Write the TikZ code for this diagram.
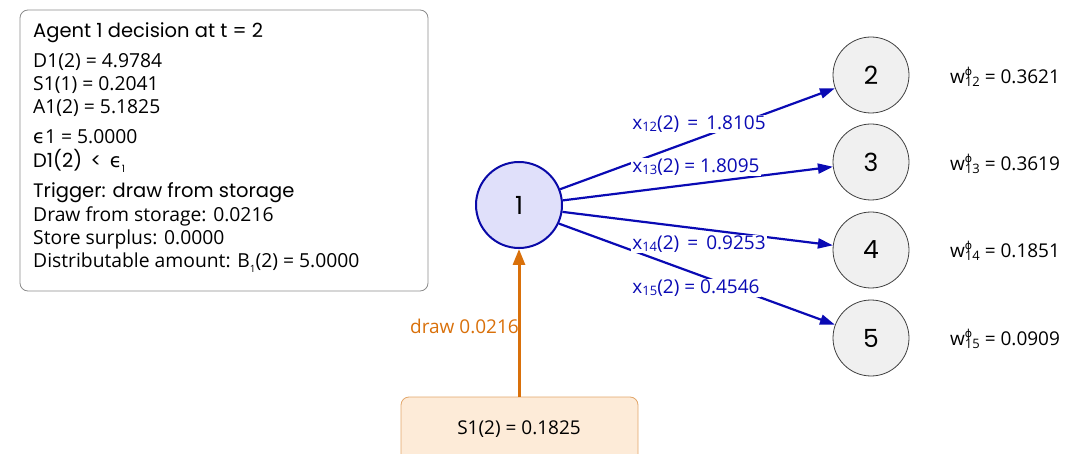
\documentclass[tikz,border=0pt]{standalone}
\usepackage{fontspec}
\setmainfont{Open Sans}
\newfontfamily\headfont{Poppins}
\newfontfamily\symfont{DejaVu Sans}
\usetikzlibrary{arrows.meta}
\definecolor{flowblue}{HTML}{0A0AB4}
\definecolor{agentfill}{HTML}{E0E0FA}
\definecolor{agentline}{HTML}{0A0AA8}
\definecolor{peerfill}{HTML}{F0F0F0}
\definecolor{peerline}{HTML}{404040}
\definecolor{drawor}{HTML}{D9700A}
\definecolor{storefill}{HTML}{FDEBD8}
\definecolor{storeline}{HTML}{E2A66A}
\newcommand{\eps}{{\symfont ϵ}}
\newcommand{\lowidx}[1]{\raisebox{-0.2ex}{\fontsize{13}{13}\selectfont #1}}
\newcommand{\wlab}[1]{w\rlap{\raisebox{0.75ex}{\symfont\fontsize{11}{11}\selectfont ϕ}}\raisebox{-0.35ex}{\fontsize{13}{13}\selectfont #1}}
\tikzset{
  agent/.style={circle, draw=agentline, line width=2pt, fill=agentfill, minimum size=86pt, inner sep=0pt, font=\headfont\fontsize{25}{25}\selectfont},
  peer/.style={circle, draw=peerline, line width=0.8pt, fill=peerfill, minimum size=76pt, inner sep=0pt, font=\headfont\fontsize{25}{25}\selectfont},
  flow/.style={draw=flowblue, line width=2.2pt, -{Triangle[length=15pt,width=10pt]}},
  flowlab/.style={fill=white, inner sep=1pt, text=flowblue, font=\fontsize{19}{19}\selectfont},
  wlabel/.style={anchor=west, inner sep=0pt, font=\fontsize{19}{19}\selectfont},
  infotext/.style={anchor=base west, inner sep=0pt, font=\fontsize{19.3}{19}\selectfont},
  infohead/.style={anchor=base west, inner sep=0pt, font=\headfont\fontsize{19.5}{20}\selectfont},
}
\begin{document}
\begin{tikzpicture}[x=1pt,y=-1pt]
\useasboundingbox (0,0) rectangle (1065,454);

% decision summary panel
\draw[draw=black!45, line width=0.8pt, rounded corners=8pt] (20,10) rectangle (428,291);
\node[infohead] (t0) at (33,38) {Agent 1 decision at t = 2};
\node[infotext] (t1) at (33,68) {D1(2) = 4.9784};
\node[infotext] (t2) at (33,91) {S1(1) = 0.2041};
\node[infotext] (t3) at (33,114) {A1(2) = 5.1825};
\node[infotext] (t4) at (33,144) {\eps1 = 5.0000};
\node[infohead] (t5) at (33,168) {D1(2) \,<\, \eps\raisebox{-0.4ex}{\fontsize{10}{10}\selectfont 1}};
\node[infohead] (t6) at (33,198) {Trigger: draw from storage};
\node[infotext] (t7) at (33,222) {Draw from storage: 0.0216};
\node[infotext] (t8) at (33,245) {Store surplus: 0.0000};
\node[infotext] (t9) at (33,268) {Distributable amount: B\raisebox{-0.4ex}{\fontsize{10}{10}\selectfont 1}(2) = 5.0000};

% agents
\node[agent] (n1) at (519,205) {1};
\node[peer] (n2) at (871,75) {2};
\node[peer] (n3) at (871,162) {3};
\node[peer] (n4) at (871,250) {4};
\node[peer] (n5) at (871,338) {5};

% storage
\draw[draw=storeline, fill=storefill, line width=0.8pt, rounded corners=8pt] (401,397) rectangle (638,470);
\node[font=\fontsize{19}{19}\selectfont] (st) at (519,429) {S1(2) = 0.1825};
\coordinate (sttop) at (519,397);

% flows to neighbours
\draw[flow] (n1.21) -- (n2);
\draw[flow] (n1.6) -- (n3);
\draw[flow] (n1.-9) -- (n4);
\draw[flow] (n1.-25) -- (n5);
\node[flowlab] (l2) at (699,124) {x\lowidx{12}(2) \,=\, 1.8105};
\node[flowlab] (l3) at (696,167) {x\lowidx{13}(2) = 1.8095};
\node[flowlab] (l4) at (699,244) {x\lowidx{14}(2) \,=\, 0.9253};
\node[flowlab] (l5) at (696,288) {x\lowidx{15}(2) = 0.4546};

% draw from storage
\draw[draw=drawor, line width=3pt, -{Triangle[length=16pt,width=12pt]}] (sttop) -- (n1);
\node[anchor=east, text=drawor, font=\fontsize{19}{19}\selectfont, inner sep=0pt] (dl) at (519,326) {draw 0.0216};

% weights
\node[wlabel] (w2) at (950,77) {\wlab{12} = 0.3621};
\node[wlabel] (w3) at (950,164) {\wlab{13} = 0.3619};
\node[wlabel] (w4) at (950,251) {\wlab{14} = 0.1851};
\node[wlabel] (w5) at (950,339) {\wlab{15} = 0.0909};
\end{tikzpicture}
\end{document}
